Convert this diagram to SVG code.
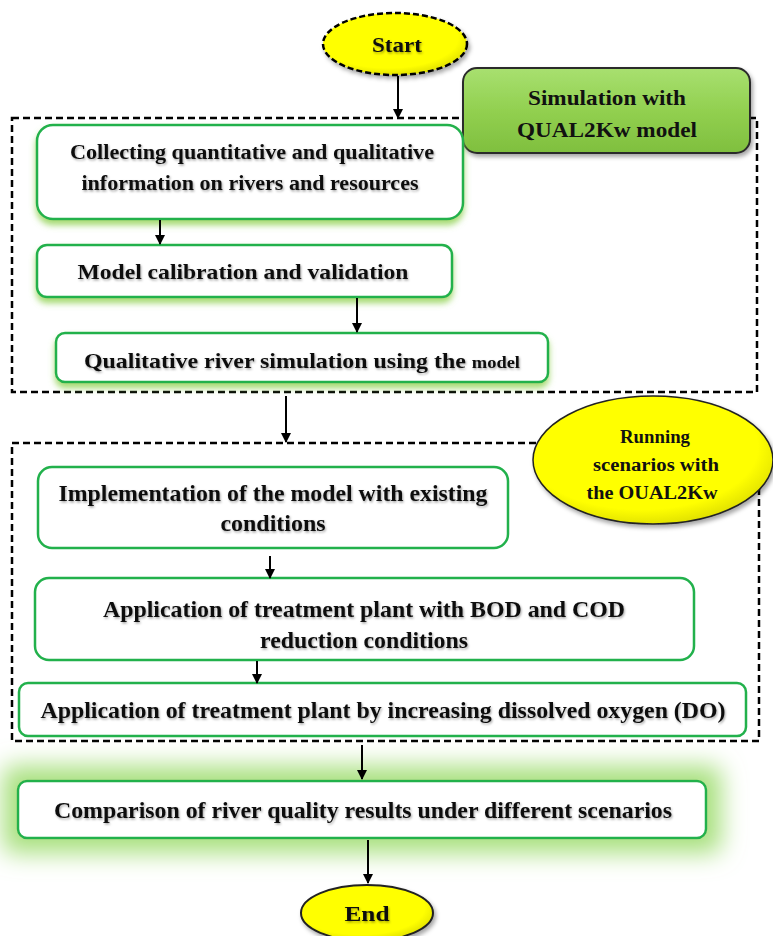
<svg xmlns="http://www.w3.org/2000/svg" width="773" height="936" viewBox="0 0 773 936">
<defs>
  <marker id="ah" markerWidth="10" markerHeight="10" refX="9" refY="5" orient="auto" markerUnits="userSpaceOnUse">
    <path d="M0,0 L10,5 L0,10 Z" fill="#000"/>
  </marker>
  <filter id="glow" x="-10%" y="-30%" width="120%" height="170%">
    <feDropShadow dx="0" dy="5" stdDeviation="3" flood-color="#8fd14f" flood-opacity="0.8"/>
  </filter>
  <filter id="bigglow" x="-20%" y="-100%" width="140%" height="300%">
    <feMorphology in="SourceAlpha" operator="dilate" radius="14" result="d"/>
    <feGaussianBlur in="d" stdDeviation="12" result="b"/>
    <feFlood flood-color="#a8e07e" flood-opacity="1"/>
    <feComposite operator="in" in2="b" result="g"/>
    <feMerge><feMergeNode in="g"/><feMergeNode in="SourceGraphic"/></feMerge>
  </filter>
  <filter id="tshadow" x="-5%" y="-20%" width="110%" height="150%">
    <feDropShadow dx="1" dy="1.5" stdDeviation="0.8" flood-color="#000" flood-opacity="0.35"/>
  </filter>
  <filter id="eshadow" x="-10%" y="-10%" width="125%" height="130%">
    <feDropShadow dx="2" dy="3" stdDeviation="2" flood-color="#000" flood-opacity="0.35"/>
  </filter>
  <radialGradient id="yel" cx="0.45" cy="0.4" r="0.65">
    <stop offset="0.75" stop-color="#ffff00"/>
    <stop offset="1" stop-color="#d8d800"/>
  </radialGradient>
  <linearGradient id="grn" x1="0" y1="0" x2="0" y2="1">
    <stop offset="0" stop-color="#a8e070"/>
    <stop offset="0.5" stop-color="#92d050"/>
    <stop offset="1" stop-color="#7fbf3e"/>
  </linearGradient>
</defs>
<style>
  .box { fill: #ffffff; stroke: #22b14c; stroke-width: 2.5; }
  .dash { fill: none; stroke: #000; stroke-width: 2.5; stroke-dasharray: 7 4; }
  .t { font-family: "Liberation Serif", "Times New Roman", serif; font-weight: bold; fill: #111; text-anchor: middle; }
  .conn line { stroke: #000; stroke-width: 2; marker-end: url(#ah); }
</style>
<rect width="773" height="936" fill="#ffffff"/>

<!-- dashed container boxes -->
<g id="group-simulation">
  <rect class="dash" x="12" y="118" width="745" height="274"/>
</g>
<g id="group-scenarios">
  <rect class="dash" x="12" y="443" width="747" height="298"/>
</g>

<g id="start">
  <ellipse cx="395" cy="44" rx="72" ry="31" fill="url(#yel)" stroke="#000" stroke-width="2.5" stroke-dasharray="6 3" filter="url(#eshadow)"/>
  <text class="t" x="397" y="52" font-size="22" textLength="50" lengthAdjust="spacingAndGlyphs" filter="url(#tshadow)">Start</text>
</g>

<g id="simulation-label">
  <rect x="463" y="68" width="287" height="85" rx="14" fill="url(#grn)" stroke="#2b2b2b" stroke-width="2" filter="url(#eshadow)"/>
  <text class="t" x="607" y="105" font-size="22" textLength="158" lengthAdjust="spacingAndGlyphs">Simulation with</text>
  <text class="t" x="607" y="137" font-size="22" textLength="180" lengthAdjust="spacingAndGlyphs">QUAL2Kw model</text>
</g>

<g id="collecting">
  <rect class="box" x="37" y="125" width="426" height="94" rx="16" filter="url(#glow)"/>
  <text class="t" x="252" y="159" font-size="20" textLength="364" lengthAdjust="spacingAndGlyphs" filter="url(#tshadow)">Collecting quantitative and qualitative</text>
  <text class="t" x="250" y="190" font-size="20" textLength="337" lengthAdjust="spacingAndGlyphs" filter="url(#tshadow)">information on rivers and resources</text>
</g>

<g id="calibration">
  <rect class="box" x="37" y="245" width="415" height="52" rx="10" filter="url(#glow)"/>
  <text class="t" x="243" y="279" font-size="21" textLength="331" lengthAdjust="spacingAndGlyphs" filter="url(#tshadow)">Model calibration and validation</text>
</g>

<g id="qualitative">
  <rect class="box" x="56" y="333" width="492" height="49" rx="9" filter="url(#glow)"/>
  <text class="t" x="302" y="368" font-size="22" textLength="436" lengthAdjust="spacingAndGlyphs" filter="url(#tshadow)">Qualitative river simulation using the <tspan font-size="17">model</tspan></text>
</g>

<g id="running-label">
  <ellipse cx="653" cy="460" rx="120" ry="64" fill="url(#yel)" stroke="#222" stroke-width="1.5" filter="url(#eshadow)"/>
  <text class="t" x="655" y="443" font-size="18" textLength="70" lengthAdjust="spacingAndGlyphs">Running</text>
  <text class="t" x="656" y="471" font-size="18" textLength="126" lengthAdjust="spacingAndGlyphs">scenarios with</text>
  <text class="t" x="652" y="499" font-size="18" textLength="131" lengthAdjust="spacingAndGlyphs">the OUAL2Kw</text>
</g>

<g id="implementation">
  <rect class="box" x="38" y="467" width="470" height="81" rx="14"/>
  <text class="t" x="273" y="501" font-size="24" textLength="429" lengthAdjust="spacingAndGlyphs" filter="url(#tshadow)">Implementation of the model with existing</text>
  <text class="t" x="273" y="531" font-size="24" textLength="105" lengthAdjust="spacingAndGlyphs" filter="url(#tshadow)">conditions</text>
</g>

<g id="bod-cod">
  <rect class="box" x="35" y="578" width="659" height="82" rx="14"/>
  <text class="t" x="364" y="617" font-size="24" textLength="522" lengthAdjust="spacingAndGlyphs" filter="url(#tshadow)">Application of treatment plant with BOD and COD</text>
  <text class="t" x="364" y="648" font-size="24" textLength="208" lengthAdjust="spacingAndGlyphs" filter="url(#tshadow)">reduction conditions</text>
</g>

<g id="do">
  <rect class="box" x="19" y="683" width="727" height="53" rx="9"/>
  <text class="t" x="383" y="718" font-size="23" textLength="685" lengthAdjust="spacingAndGlyphs" filter="url(#tshadow)">Application of treatment plant by increasing dissolved oxygen (DO)</text>
</g>

<g id="comparison">
  <rect class="box" x="18" y="781" width="688" height="57" rx="9" filter="url(#bigglow)"/>
  <text class="t" x="363" y="818" font-size="23" textLength="618" lengthAdjust="spacingAndGlyphs" filter="url(#tshadow)">Comparison of river quality results under different scenarios</text>
</g>

<g id="end">
  <ellipse cx="367" cy="913" rx="66" ry="28" fill="url(#yel)" stroke="#222" stroke-width="2" filter="url(#eshadow)"/>
  <text class="t" x="367" y="921" font-size="22" textLength="45" lengthAdjust="spacingAndGlyphs" filter="url(#tshadow)">End</text>
</g>

<g id="connectors" class="conn">
  <line x1="398" y1="76" x2="398" y2="118"/>
  <line x1="160" y1="220" x2="160" y2="244"/>
  <line x1="357" y1="298" x2="357" y2="332"/>
  <line x1="286" y1="396" x2="286" y2="442"/>
  <line x1="270" y1="556" x2="270" y2="578"/>
  <line x1="257" y1="661" x2="257" y2="683"/>
  <line x1="362" y1="745" x2="362" y2="779"/>
  <line x1="368" y1="840" x2="368" y2="883"/>
</g>
</svg>
